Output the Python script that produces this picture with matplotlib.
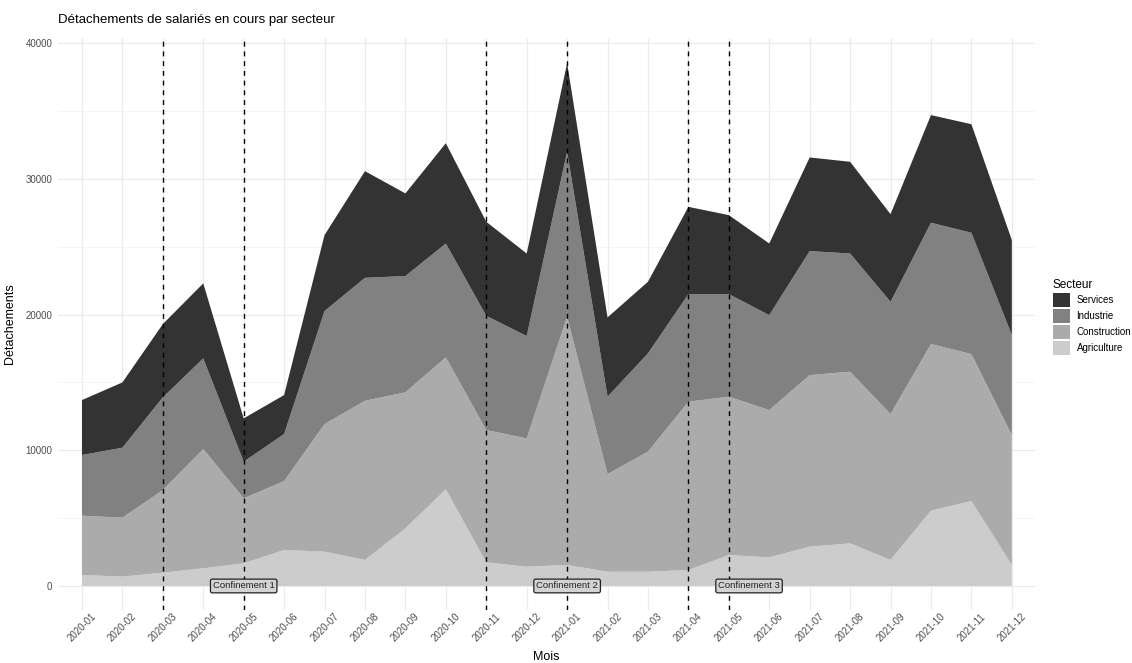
import matplotlib.pyplot as plt
from matplotlib.patches import Patch
import numpy as np

plt.rcParams['font.family'] = ['Liberation Sans', 'DejaVu Sans']

# Données (détachements par secteur et par mois)
mois = ["2020-01", "2020-02", "2020-03", "2020-04", "2020-05", "2020-06",
        "2020-07", "2020-08", "2020-09", "2020-10", "2020-11", "2020-12",
        "2021-01", "2021-02", "2021-03", "2021-04", "2021-05", "2021-06",
        "2021-07", "2021-08", "2021-09", "2021-10", "2021-11", "2021-12"]
agriculture = [810, 690, 980, 1300, 1670, 2650, 2530, 1920, 4250, 7120, 1740, 1420,
               1550, 1050, 1050, 1180, 2280, 2110, 2900, 3140, 1920, 5550, 6260, 1550]
construction = [4370, 4340, 6090, 8790, 4790, 5080, 9400, 11730, 10020, 9730, 9750, 9460,
                18290, 7200, 8850, 12400, 11670, 10850, 12640, 12650, 10750, 12280, 10830, 9570]
industrie = [4470, 5160, 6830, 6680, 2700, 3470, 8330, 9060, 8570, 8390, 8420, 7540,
             12160, 5700, 7240, 7930, 7560, 7000, 9140, 8710, 8270, 8940, 8940, 7370]
services = [4050, 4810, 5400, 5530, 3190, 2870, 5600, 7860, 6090, 7390, 6930, 6080,
            6530, 5840, 5280, 6430, 5820, 5280, 6900, 6760, 6460, 7930, 8000, 7000]

secteurs = ["Services", "Industrie", "Construction", "Agriculture"]
couleurs = {"Services": "#333333", "Industrie": "#818181",
            "Construction": "#ababab", "Agriculture": "#cccccc"}

# Confinements : début / fin (mois) et position des étiquettes
confinements = ["Confinement 1", "Confinement 2", "Confinement 3"]
conf_debut = ["2020-03", "2020-11", "2021-04"]
conf_fin = ["2020-05", "2021-01", "2021-05"]
conf_label_x = [4, 12, 16.5]

x = np.arange(len(mois))

fig = plt.figure(figsize=(11.32, 6.63), dpi=100)
ax = fig.add_axes([0.0512, 0.080, 0.863, 0.863])

# grille façon theme_minimal
ax.set_yticks(np.arange(0, 40001, 10000))
ax.set_yticks(np.arange(5000, 40000, 10000), minor=True)
ax.set_xticks(x)
ax.grid(which='major', color='#ebebeb', linewidth=0.9)
ax.grid(which='minor', axis='y', color='#f3f3f3', linewidth=0.6)
ax.set_axisbelow(True)

ax.stackplot(x, agriculture, construction, industrie, services,
             colors=[couleurs["Agriculture"], couleurs["Construction"],
                     couleurs["Industrie"], couleurs["Services"]],
             linewidth=0, zorder=2)

for d, f in zip(conf_debut, conf_fin):
    for m in (d, f):
        ax.axvline(mois.index(m), color='black', linestyle=(0, (3.5, 3.5)),
                   linewidth=1.0, zorder=3)

for lab, lx in zip(confinements, conf_label_x):
    ax.text(lx, 0, lab, ha='center', va='center', fontsize=6.8, color='#222222',
            zorder=4,
            bbox=dict(boxstyle='round,pad=0.25,rounding_size=0.2',
                      facecolor='#d3d3d3', edgecolor='#222222', linewidth=0.9))

ax.set_xlim(-0.594, 23.57)
ax.set_ylim(-1768, 40398)
ax.set_xticklabels(mois, rotation=45, ha='center', fontsize=7, color='#4d4d4d')
ax.set_yticklabels([str(v) for v in range(0, 40001, 10000)], fontsize=7, color='#4d4d4d')
ax.tick_params(which='both', length=0)
ax.tick_params(axis='y', pad=4)
ax.tick_params(axis='x', pad=1)
for s in ax.spines.values():
    s.set_visible(False)

ax.set_xlabel("Mois", fontsize=9)
ax.xaxis.set_label_coords(0.5, -0.072)
ax.set_ylabel("Détachements", fontsize=9)
ax.yaxis.set_label_coords(-0.043, 0.5)

fig.text(58 / 1132, 1 - 20 / 663, "Détachements de salariés en cours par secteur",
         fontsize=9.5, va='center', ha='left')

handles = [Patch(facecolor=couleurs[s], edgecolor='none', label=s) for s in secteurs]
leg = fig.legend(handles=handles, title="Secteur", loc='upper left',
                 bbox_to_anchor=(1046 / 1132, 1 - 272 / 663), frameon=False,
                 fontsize=7, title_fontsize=8.5, handlelength=1.75,
                 handleheight=1.85, labelspacing=0.2, handletextpad=0.7,
                 borderpad=0.2)
leg._legend_box.align = "left"

plt.savefig('out.png', dpi=100)
